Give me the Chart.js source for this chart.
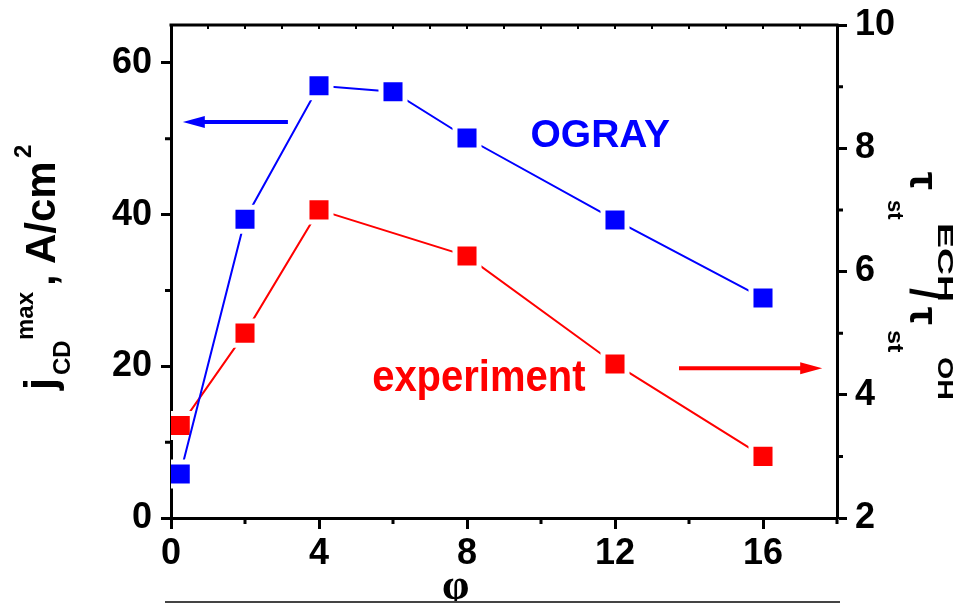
<!DOCTYPE html>
<html>
<head>
<meta charset="utf-8">
<script src="https://cdn.jsdelivr.net/npm/chart.js@4.4.0/dist/chart.umd.min.js"></script>
<style>
  html, body { margin: 0; padding: 0; background: #fff; }
  #wrap { width: 963px; height: 603px; }
</style>
</head>
<body>
<div id="wrap"><canvas id="chart" width="963" height="603"></canvas></div>
<script>
// toroidal angle, deg
const phiOgray = [0.25, 2, 4, 6, 8, 12, 16];
const jcdOgray = [5.8, 39.4, 57.0, 56.2, 50.1, 39.3, 29.0];
const phiExp = [0.25, 2, 4, 8, 12, 16];
const tauRatioExp = [3.5, 5.0, 7.0, 6.25, 4.5, 3.0];

const xTicks = [0, 4, 8, 12, 16];
const xMinor = [2, 6, 10, 14, 18];
const topMinor = [1, 2, 3, 4, 5, 6, 7, 8, 9, 10, 11, 12, 13, 14, 15, 16, 17];
const leftTicks = [0, 20, 40, 60];
const leftMinor = [10, 30, 50];
const rightTicks = [2, 4, 6, 8, 10];
const rightMinor = [3, 5, 7, 9];

const FONT = "'Liberation Sans', Arial, sans-serif";
const SERIF = "'Liberation Serif', 'DejaVu Serif', serif";
const BLUE = '#0000ff';
const RED = '#ff0000';

Chart.defaults.font.family = FONT;
Chart.defaults.color = '#000';

function toPoints(xs, ys) {
    return xs.map((x, i) => ({ x: x, y: ys[i] }));
}

// draws a run of text pieces along a rotated baseline
function drawRich(ctx, x, y, angle, parts) {
    ctx.save();
    ctx.translate(x, y);
    ctx.rotate(angle);
    ctx.textAlign = 'left';
    ctx.textBaseline = 'alphabetic';
    parts.forEach(p => {
        ctx.save();
        ctx.font = `bold ${p.size}px ${p.family || FONT}`;
        ctx.translate(p.dx, -p.rise);
        ctx.scale(p.stretch || 1, 1);
        ctx.fillStyle = '#000';
        ctx.fillText(p.text, 0, 0);
        ctx.restore();
    });
    ctx.restore();
}

function drawArrow(ctx, x1, y, x2, color) {
    const dir = Math.sign(x2 - x1);
    ctx.save();
    ctx.strokeStyle = color;
    ctx.fillStyle = color;
    ctx.lineWidth = 4;
    ctx.beginPath();
    ctx.moveTo(x1, y);
    ctx.lineTo(x2 - dir * 16, y);
    ctx.stroke();
    ctx.beginPath();
    ctx.moveTo(x2, y);
    ctx.lineTo(x2 - dir * 22, y - 6);
    ctx.lineTo(x2 - dir * 22, y + 6);
    ctx.closePath();
    ctx.fill();
    ctx.restore();
}

const frameAndNotes = {
    id: 'frameAndNotes',
    afterDraw(chart) {
        const ctx = chart.ctx;
        const { left, right, top, bottom } = chart.chartArea;
        const x = chart.scales.x, yL = chart.scales.yL, yR = chart.scales.yR;

        ctx.save();
        ctx.strokeStyle = '#000';
        ctx.lineCap = 'butt';

        // top frame line
        ctx.lineWidth = 3;
        ctx.beginPath();
        ctx.moveTo(left - 1.5, top);
        ctx.lineTo(right + 1.5, top);
        ctx.stroke();

        // minor ticks
        ctx.beginPath();
        xMinor.forEach(v => {
            const px = x.getPixelForValue(v);
            ctx.moveTo(px, bottom);
            ctx.lineTo(px, bottom + 6);
        });
        leftMinor.forEach(v => {
            const py = yL.getPixelForValue(v);
            ctx.moveTo(left, py);
            ctx.lineTo(left - 6, py);
        });
        rightMinor.forEach(v => {
            const py = yR.getPixelForValue(v);
            ctx.moveTo(right, py);
            ctx.lineTo(right + 6, py);
        });
        ctx.stroke();
        ctx.lineWidth = 2;
        ctx.beginPath();
        topMinor.forEach(v => {
            const px = x.getPixelForValue(v);
            ctx.moveTo(px, top);
            ctx.lineTo(px, top + 4);
        });
        ctx.stroke();
        ctx.restore();

        // series names
        ctx.save();
        ctx.textAlign = 'center';
        ctx.textBaseline = 'alphabetic';
        ctx.fillStyle = BLUE;
        ctx.font = `bold 39px ${FONT}`;
        ctx.fillText('OGRAY', x.getPixelForValue(11.6), yL.getPixelForValue(48.9));
        ctx.fillStyle = RED;
        ctx.font = `bold 40px ${FONT}`;
        ctx.translate(x.getPixelForValue(8.32), yL.getPixelForValue(16.75));
        ctx.scale(1, 1.1);
        ctx.fillText('experiment', 0, 0);
        ctx.restore();

        // arrows pointing to each series' axis
        drawArrow(ctx, x.getPixelForValue(3.16), yL.getPixelForValue(52.2), x.getPixelForValue(0.32), BLUE);
        drawArrow(ctx, x.getPixelForValue(13.73), yR.getPixelForValue(4.43), x.getPixelForValue(17.6), RED);

        // left axis title: j_CD^max, A/cm^2
        drawRich(ctx, 55, 390, -Math.PI / 2, [
            { text: 'j', size: 44, dx: 0, rise: 0 },
            { text: 'CD', size: 24, dx: 15, rise: -15 },
            { text: 'max', size: 24, dx: 50, rise: 22 },
            { text: ',', size: 42, dx: 104, rise: 0 },
            { text: 'A/cm', size: 42, dx: 126, rise: 0 },
            { text: '2', size: 24, dx: 232, rise: 24 }
        ]);

        // right axis title: tau_st^ECH / tau_st^OH
        drawRich(ctx, 910, 172, Math.PI / 2, [
            { text: 'τ', size: 40, dx: 0, rise: 0 },
            { text: 'st', size: 22, dx: 28, rise: -22 },
            { text: 'ECH', size: 22, dx: 51, rise: 28, stretch: 1.7 },
            { text: '/', size: 40, dx: 116, rise: 0 },
            { text: 'τ', size: 40, dx: 135, rise: 0 },
            { text: 'st', size: 22, dx: 158, rise: -22, stretch: 1.15 },
            { text: 'OH', size: 22, dx: 185, rise: 28, stretch: 1.3 }
        ]);

        // bottom axis title, cut by the page edge
        ctx.save();
        ctx.fillStyle = '#000';
        ctx.textAlign = 'left';
        ctx.textBaseline = 'alphabetic';
        ctx.font = `bold 44px ${SERIF}`;
        ctx.fillText('φ', 442, 599);
        ctx.font = `bold 28px ${FONT}`;
        ctx.fillText('tor', 476, 623);
        ctx.strokeStyle = '#444';
        ctx.lineWidth = 2;
        ctx.beginPath();
        ctx.moveTo(165, 602);
        ctx.lineTo(840, 602);
        ctx.stroke();
        ctx.restore();
    }
};

const axisGrid = {
    drawOnChartArea: false,
    drawTicks: true,
    tickLength: 10,
    tickWidth: 3,
    tickColor: '#000'
};
const axisBorder = { display: true, color: '#000', width: 3 };
const tickFont = { size: 36, weight: 'bold' };

// fixed plot box: no extra room reserved for half-labels at the ends
function fixVertical(width) {
    return s => {
        s.width = width;
        s.paddingTop = 0;
        s.paddingBottom = 0;
    };
}

const ctx = document.getElementById('chart').getContext('2d');
new Chart(ctx, {
    type: 'line',
    data: {
        datasets: [
            {
                label: 'OGRAY',
                data: toPoints(phiOgray, jcdOgray),
                yAxisID: 'yL',
                borderColor: BLUE,
                borderWidth: 2,
                pointStyle: 'rect',
                pointRadius: 17,
                pointBorderWidth: 5,
                pointBackgroundColor: BLUE,
                pointBorderColor: '#fff',
                tension: 0
            },
            {
                label: 'experiment',
                data: toPoints(phiExp, tauRatioExp),
                yAxisID: 'yR',
                borderColor: RED,
                borderWidth: 2,
                pointStyle: 'rect',
                pointRadius: 17,
                pointBorderWidth: 5,
                pointBackgroundColor: RED,
                pointBorderColor: '#fff',
                tension: 0
            }
        ]
    },
    options: {
        responsive: false,
        animation: false,
        events: [],
        layout: { padding: { top: 25, left: 0, right: 0, bottom: 0 } },
        plugins: {
            legend: { display: false },
            tooltip: { enabled: false }
        },
        scales: {
            x: {
                type: 'linear',
                position: 'bottom',
                min: 0,
                max: 18,
                z: 1,
                afterBuildTicks: s => { s.ticks = xTicks.map(v => ({ value: v })); },
                afterFit: s => {
                    s.height = 85;
                    s.paddingLeft = 0;
                    s.paddingRight = 0;
                },
                grid: { ...axisGrid, tickLength: 11 },
                border: axisBorder,
                ticks: { font: tickFont, color: '#000', padding: 3, maxRotation: 0 }
            },
            yL: {
                type: 'linear',
                position: 'left',
                min: 0,
                max: 65,
                z: 1,
                afterBuildTicks: s => { s.ticks = leftTicks.map(v => ({ value: v })); },
                afterFit: fixVertical(171),
                grid: axisGrid,
                border: axisBorder,
                ticks: { font: tickFont, color: '#000', padding: 9 }
            },
            yR: {
                type: 'linear',
                position: 'right',
                min: 2,
                max: 10,
                z: 1,
                afterBuildTicks: s => { s.ticks = rightTicks.map(v => ({ value: v })); },
                afterFit: fixVertical(126),
                grid: axisGrid,
                border: axisBorder,
                ticks: { font: tickFont, color: '#000', padding: 8 }
            }
        }
    },
    plugins: [frameAndNotes]
});
</script>
</body>
</html>
